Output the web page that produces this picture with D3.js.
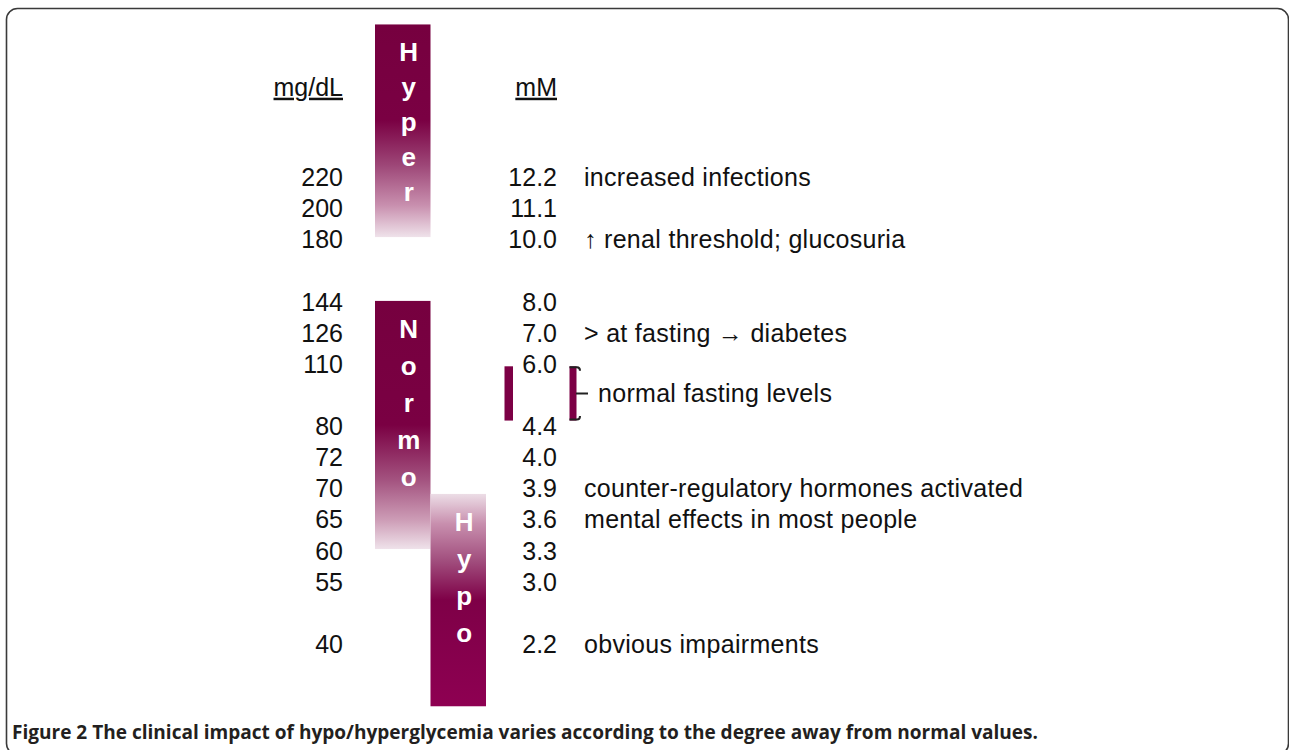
<!DOCTYPE html>
<html>
<head>
<meta charset="utf-8">
<script src="https://cdn.jsdelivr.net/npm/d3@7"></script>
<style>
  body { margin: 0; background: #fff; }
  svg { display: block; }
  .num, .note, .head { font-family: "Liberation Sans", Arial, sans-serif; font-size: 25px; fill: #111; }
  .note { letter-spacing: 0.3px; }
  .head { text-decoration: underline; }
  .zone-letter { font-family: "Liberation Sans", Arial, sans-serif; font-weight: bold; font-size: 26px; fill: #fff; }
  .caption { font-family: "Open Sans", "DejaVu Sans", sans-serif; font-weight: 700; fill: #231f20; }
</style>
</head>
<body>
<svg id="chart" width="1289" height="750"></svg>
<script>
// rows of the ladder, blank strings are the spacer rows
const mgdlLabels = ["220", "200", "180", "", "144", "126", "110", "", "80", "72", "70", "65", "60", "55", "", "40"];
const mmolLabels = ["12.2", "11.1", "10.0", "", "8.0", "7.0", "6.0", "", "4.4", "4.0", "3.9", "3.6", "3.3", "3.0", "", "2.2"];

// what happens at a given mM level
const noteLevels = ["12.2", "10.0", "7.0", "3.9", "3.6", "2.2"];
const noteTexts = [
    "increased infections",
    "\u2191 renal threshold; glucosuria",
    "> at fasting \u2192 diabetes",
    "counter-regulatory hormones activated",
    "mental effects in most people",
    "obvious impairments"
];

// glycemia zones, extent given in row units of the ladder
const zoneNames = ["Hyper", "Normo", "Hypo"];
const zoneColumn = ["upper", "upper", "lower"];
const zoneFrom = [-4.9, 3.98, 10.18];
const zoneTo = [1.93, 11.95, 17.0];

// normal fasting range (mM)
const fastingRange = ["6.0", "4.4"];
const fastingText = "normal fasting levels";

const captionBold = "Figure 2";
const captionText = "The clinical impact of hypo/hyperglycemia varies according to the degree away from normal values.";

const svg = d3.select('#chart');

// frame (bottom edge falls just outside the picture)
svg.append('rect')
    .attr('x', 6.5).attr('y', 8.5)
    .attr('width', 1282).attr('height', 746)
    .attr('rx', 11)
    .attr('fill', 'none')
    .attr('stroke', '#3a3a3a')
    .attr('stroke-width', 1.6);

let y = d3.scaleLinear().domain([0, 15]).range([177, 644]);
let col = d3.scaleBand().domain(['upper', 'lower']).range([375, 486]);

// gradients
const defs = svg.append('defs');
const gradStops = {
    Hyper: [[0, '#76003f'], [0.45, '#7a0043'], [0.66, '#9d4677'], [0.85, '#c88fae'], [1, '#efe2ea']],
    Normo: [[0, '#76003f'], [0.5, '#7a0043'], [0.72, '#a3527f'], [0.88, '#cc9bb5'], [1, '#efe2ea']],
    Hypo: [[0, '#ecdde6'], [0.14, '#c88fae'], [0.32, '#a04c7c'], [0.5, '#7e0047'], [1, '#8e0052']]
};
zoneNames.forEach(name => {
    let g = defs.append('linearGradient')
        .attr('id', 'grad-' + name)
        .attr('x1', 0).attr('y1', 0).attr('x2', 0).attr('y2', 1);
    g.selectAll('stop')
        .data(gradStops[name])
        .enter()
        .append('stop')
        .attr('offset', d => d[0])
        .attr('stop-color', d => d[1]);
});

const zones = zoneNames.map((n, i) => ({name: n, column: zoneColumn[i], from: zoneFrom[i], to: zoneTo[i]}));
const letterStep = {Hyper: 35, Normo: 37, Hypo: 37};

let zg = svg.selectAll('.zone')
    .data(zones)
    .enter()
    .append('g')
    .attr('class', 'zone');
zg.append('rect')
    .attr('x', d => col(d.column))
    .attr('y', d => y(d.from))
    .attr('width', col.bandwidth())
    .attr('height', d => y(d.to) - y(d.from))
    .attr('fill', d => 'url(#grad-' + d.name + ')');
zg.each(function(d) {
    d3.select(this).selectAll('text')
        .data(d.name.split(''))
        .enter()
        .append('text')
        .attr('class', 'zone-letter')
        .attr('x', col(d.column) + col.bandwidth() / 2 + 6)
        .attr('y', (c, i) => y(d.from) + 37 + i * letterStep[d.name])
        .attr('text-anchor', 'middle')
        .text(c => c);
});

// column heads
const baseShift = 9;
svg.append('text').attr('class', 'head')
    .attr('x', 343).attr('y', y(-2.9) + baseShift)
    .attr('text-anchor', 'end').text('mg/dL');
svg.append('text').attr('class', 'head')
    .attr('x', 557).attr('y', y(-2.9) + baseShift)
    .attr('text-anchor', 'end').text('mM');

// mg/dL and mM numbers
svg.selectAll('.mg')
    .data(mgdlLabels)
    .enter()
    .append('text')
    .attr('class', 'num mg')
    .attr('x', 343)
    .attr('y', (d, i) => y(i) + baseShift)
    .attr('text-anchor', 'end')
    .text(d => d);
svg.selectAll('.mm')
    .data(mmolLabels)
    .enter()
    .append('text')
    .attr('class', 'num mm')
    .attr('x', 557)
    .attr('y', (d, i) => y(i) + baseShift)
    .attr('text-anchor', 'end')
    .text(d => d);

// notes
svg.selectAll('.note')
    .data(noteLevels)
    .enter()
    .append('text')
    .attr('class', 'note')
    .attr('x', 584)
    .attr('y', d => y(mmolLabels.indexOf(d)) + baseShift)
    .text((d, i) => noteTexts[i]);

// normal fasting range marks
let fTop = y(mmolLabels.indexOf(fastingRange[0])) + 2.5;
let fBot = y(mmolLabels.indexOf(fastingRange[1])) - 5.5;
let fMid = (fTop + fBot) / 2;
svg.append('rect')
    .attr('x', 504.5).attr('y', fTop)
    .attr('width', 8.5).attr('height', fBot - fTop)
    .attr('fill', '#7c0045');
svg.append('rect')
    .attr('x', 569.5).attr('y', fTop)
    .attr('width', 7).attr('height', fBot - fTop)
    .attr('fill', '#7c0045');
svg.append('path')
    .attr('d', 'M569.5,' + (fTop + 1) + 'H577Q580,' + (fTop + 1) + ' 580,' + (fTop + 4.5)
        + 'M569.5,' + (fBot - 1) + 'H577Q580,' + (fBot - 1) + ' 580,' + (fBot - 4.5)
        + 'M576,' + fMid + 'H588')
    .attr('fill', 'none')
    .attr('stroke', '#222')
    .attr('stroke-width', 2);
svg.append('text')
    .attr('class', 'note')
    .attr('x', 598)
    .attr('y', fMid + baseShift)
    .text(fastingText);

// caption, squeezed to the width it takes in the figure
let cap = svg.append('text')
    .attr('class', 'caption')
    .attr('x', 0).attr('y', 0)
    .style('font-size', '20px');
cap.append('tspan').text(captionBold + ' ');
cap.append('tspan').text(captionText);
let w = cap.node().getComputedTextLength();
cap.attr('transform', 'translate(12,739) scale(' + (1027 / w) + ',1)');
</script>
</body>
</html>
